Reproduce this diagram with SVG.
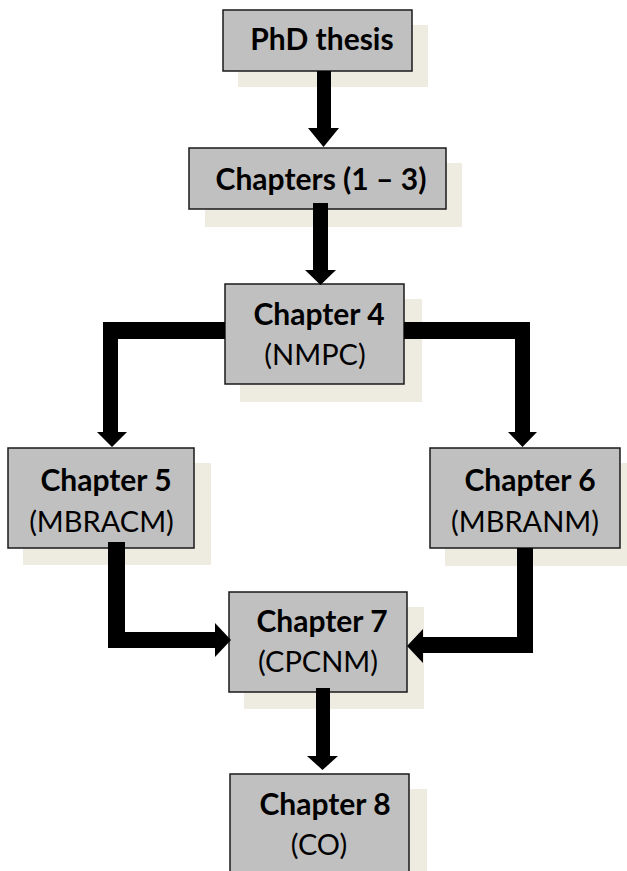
<svg xmlns="http://www.w3.org/2000/svg" width="627" height="871" viewBox="0 0 627 871">
<style>
.sh{fill:#EEEBE1}
.bx{fill:#C0C0C0;stroke:#1a1a1a;stroke-width:1.5}
.t{font-family:Lato,"Open Sans","DejaVu Sans",sans-serif;font-size:29px;fill:#000;text-anchor:middle}
.b{font-weight:bold;font-size:30px}
.ar{fill:#000}
</style>
<rect width="627" height="871" fill="#fff"/>
<g id="phd">
<rect class="sh" x="238" y="25" width="190" height="62"/>
<rect class="bx" x="223" y="10" width="189" height="61"/>
<text class="t b" x="322" y="50">PhD thesis</text>
</g>
<g id="ch13">
<rect class="sh" x="205" y="163" width="257" height="64"/>
<rect class="bx" x="189" y="148" width="257" height="61"/>
<text class="t b" x="321" y="190">Chapters (1 – 3)</text>
</g>
<g id="ch4">
<rect class="sh" x="240" y="299" width="182" height="103"/>
<rect class="bx" x="225" y="284" width="179" height="100"/>
<text class="t b" x="319" y="325">Chapter 4</text>
<text class="t" x="315" y="365">(NMPC)</text>
</g>
<g id="ch5">
<rect class="sh" x="23" y="463" width="188" height="102"/>
<rect class="bx" x="8" y="448" width="186" height="100"/>
<text class="t b" x="106" y="491">Chapter 5</text>
<text class="t" x="101.5" y="532">(MBRACM)</text>
</g>
<g id="ch6">
<rect class="sh" x="445" y="463" width="190" height="103"/>
<rect class="bx" x="430" y="448" width="190" height="100"/>
<text class="t b" x="530" y="491">Chapter 6</text>
<text class="t" x="525" y="532">(MBRANM)</text>
</g>
<g id="ch7">
<rect class="sh" x="244" y="607" width="180" height="102"/>
<rect class="bx" x="229" y="592" width="178" height="100"/>
<text class="t b" x="322" y="632">Chapter 7</text>
<text class="t" x="318" y="672">(CPCNM)</text>
</g>
<g id="ch8">
<rect class="sh" x="245" y="789" width="182" height="110"/>
<rect class="bx" x="230" y="774" width="179" height="120"/>
<text class="t b" x="325" y="815">Chapter 8</text>
<text class="t" x="319" y="855">(CO)</text>
</g>
<g id="connectors">
<polygon class="ar" points="317,71 331,71 331,128 339,128 323.5,147 308,128 317,128"/>
<polygon class="ar" points="313,203 328,203 328,270 336,270 320.5,285 305,270 313,270"/>
<polygon class="ar" points="225,322 103,322 103,432 97,432 112,447 127,432 118,432 118,339 225,339"/>
<polygon class="ar" points="404,322 530,322 530,432 537,432 522.5,447 508,432 515,432 515,339 404,339"/>
<polygon class="ar" points="108,542 125,542 125,632 215,632 215,623 231,640 215,657 215,648 108,648"/>
<polygon class="ar" points="517,548 533,548 533,653 423,653 423,663 407,646 423,629 423,637 517,637"/>
<polygon class="ar" points="316,688 330,688 330,756 338,756 322.5,770 307,756 316,756"/>
</g>
</svg>
